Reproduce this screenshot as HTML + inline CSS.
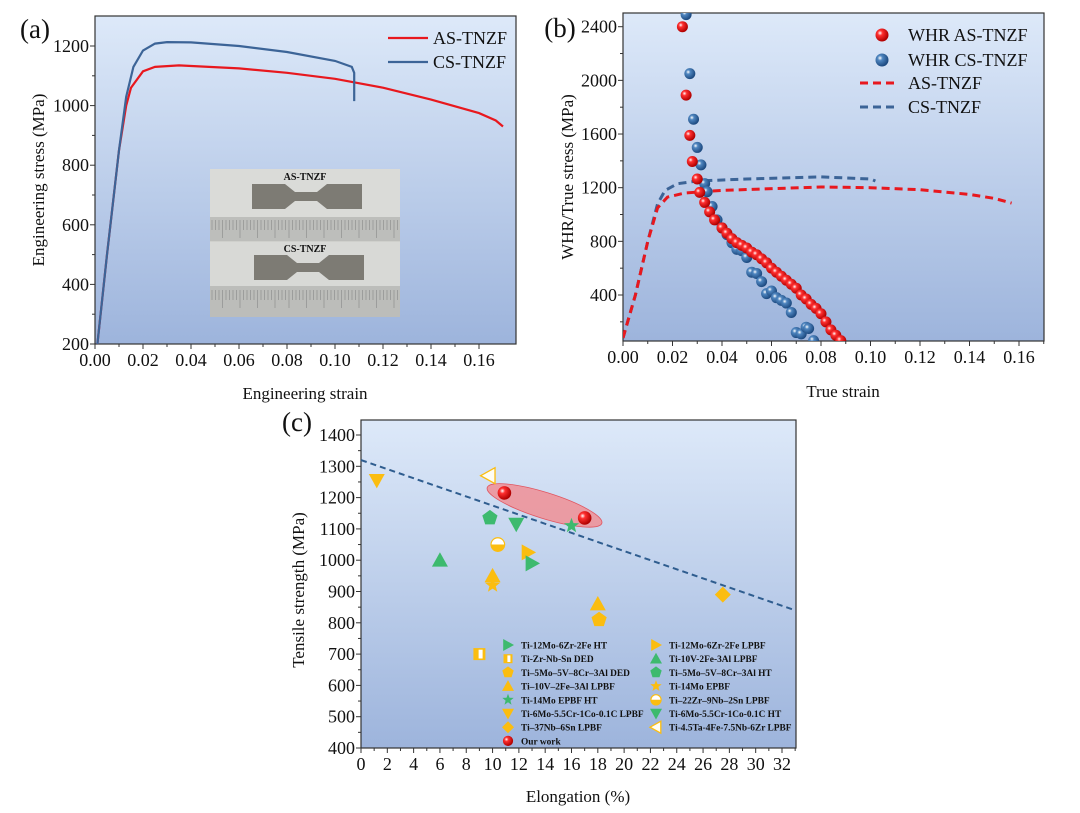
<!DOCTYPE html>
<html><head><meta charset="utf-8">
<style>
html,body{margin:0;padding:0;background:#fff;}
svg{display:block;font-family:"Liberation Serif",serif;}
.tk{font-size:18px;fill:#111;}
.tt{font-size:17px;fill:#111;}
.lg{font-size:18px;fill:#111;}
.cl{font-size:9.4px;font-weight:bold;fill:#111;}
</style></head>
<body>
<svg id="fig" width="1080" height="813" viewBox="0 0 1080 813">
<defs>
<linearGradient id="bg" x1="0" y1="0" x2="0" y2="1">
<stop offset="0" stop-color="#dde9f9"/><stop offset="1" stop-color="#9db4dc"/>
</linearGradient>
<radialGradient id="rb" cx="0.35" cy="0.35" r="0.65"><stop offset="0" stop-color="#fff"/><stop offset="0.3" stop-color="#ff3030"/><stop offset="1" stop-color="#b00000"/></radialGradient>
<radialGradient id="bb" cx="0.35" cy="0.35" r="0.65"><stop offset="0" stop-color="#fff"/><stop offset="0.3" stop-color="#4f86c0"/><stop offset="1" stop-color="#1d4a80"/></radialGradient>
</defs>
<g id="pa"></g>
<g id="pb"></g>
<g id="pc"></g>
</svg>
<script>
// ---- Panel (a) data ----
const aAsStrain=[0.001,0.005,0.01,0.013,0.015,0.02,0.025,0.035,0.06,0.08,0.1,0.12,0.14,0.16,0.167,0.17];
const aAsStress=[200,500,850,1000,1060,1115,1130,1135,1125,1110,1090,1060,1020,975,950,930];
const aCsStrain=[0.001,0.005,0.01,0.013,0.016,0.02,0.025,0.03,0.04,0.06,0.08,0.1,0.107,0.108,0.108];
const aCsStress=[200,500,850,1030,1130,1185,1208,1213,1212,1200,1180,1150,1130,1110,1015];
const aXTicks=[0,0.02,0.04,0.06,0.08,0.1,0.12,0.14,0.16];
const aYTicks=[200,400,600,800,1000,1200];
// ---- Panel (b) data ----
const bAsStrain=[0,0.005,0.01,0.014,0.018,0.025,0.04,0.08,0.1,0.12,0.14,0.15,0.157];
const bAsStress=[80,400,800,1050,1130,1160,1180,1205,1200,1185,1150,1120,1085];
const bCsStrain=[0,0.005,0.01,0.014,0.017,0.022,0.03,0.05,0.08,0.1,0.102];
const bCsStress=[80,400,800,1080,1180,1230,1250,1265,1280,1265,1250];
const whrAsX=[0.024,0.0255,0.027,0.028,0.03,0.031,0.033,0.035,0.037,0.04,0.042,0.044,0.046,0.048,0.05,0.052,0.054,0.056,0.058,0.06,0.062,0.064,0.066,0.068,0.07,0.072,0.074,0.076,0.078,0.08,0.082,0.084,0.086,0.088];
const whrAsY=[2400,1890,1590,1395,1265,1165,1090,1020,960,900,860,820,790,770,750,720,700,670,640,600,570,540,510,480,450,400,370,330,300,260,200,140,100,60];
const whrCsX=[0.0255,0.027,0.0285,0.03,0.0315,0.033,0.034,0.036,0.038,0.04,0.042,0.044,0.046,0.048,0.05,0.052,0.054,0.056,0.058,0.06,0.062,0.064,0.066,0.068,0.07,0.072,0.074,0.075,0.077];
const whrCsY=[2490,2050,1710,1500,1370,1230,1170,1060,960,900,850,790,740,730,680,570,560,500,410,430,380,360,340,270,120,110,160,150,60];
const bXTicks=[0,0.02,0.04,0.06,0.08,0.1,0.12,0.14,0.16];
const bYTicks=[400,800,1200,1600,2000,2400];
// ---- Panel (c) data ----
const cNames=["Ti-6Mo-5.5Cr-1Co-0.1C LPBF","Ti-4.5Ta-4Fe-7.5Nb-6Zr LPBF","Ti-5Mo-5V-8Cr-3Al HT","Ti-6Mo-5.5Cr-1Co-0.1C HT","Ti-14Mo EPBF HT","Ti-22Zr-9Nb-2Sn LPBF","Ti-10V-2Fe-3Al LPBF","Ti-12Mo-6Zr-2Fe LPBF","Ti-12Mo-6Zr-2Fe HT","Ti-10V-2Fe-3Al LPBF","Ti-10V-2Fe-3Al LPBF","Ti-14Mo EPBF","Ti-5Mo-5V-8Cr-3Al DED","Ti-37Nb-6Sn LPBF","Ti-Zr-Nb-Sn DED","Our work","Our work"];
const cElong=[1.2,9.7,9.8,11.8,16,10.4,6,12.7,13,10,18,10,18.1,27.5,9,10.9,17];
const cStrength=[1255,1270,1135,1115,1110,1050,1000,1025,990,950,860,920,810,890,700,1215,1135];
const cShapes=["ydown","yleft","gpent","gdown","gstar","yhalf","gup","yright","gright","yup","yup","ystar","ypent","ydiam","ysq","ball","ball"];
const cTrendX=[0,33];
const cTrendY=[1320,840];
const cXTicks=[0,2,4,6,8,10,12,14,16,18,20,22,24,26,28,30,32];
const cYTicks=[400,500,600,700,800,900,1000,1100,1200,1300,1400];
const cLegendLeft=[["gright","Ti-12Mo-6Zr-2Fe HT"],["ysq","Ti-Zr-Nb-Sn DED"],["ypent","Ti\u20135Mo\u20135V\u20138Cr\u20133Al DED"],["yup","Ti\u201310V\u20132Fe\u20133Al LPBF"],["gstar","Ti-14Mo EPBF HT"],["ydown","Ti-6Mo-5.5Cr-1Co-0.1C LPBF"],["ydiam","Ti\u201337Nb\u20136Sn LPBF"],["ball","Our work"]];
const cLegendRight=[["yright","Ti-12Mo-6Zr-2Fe LPBF"],["gup","Ti-10V-2Fe-3Al LPBF"],["gpent","Ti\u20135Mo\u20135V\u20138Cr\u20133Al  HT"],["ystar","Ti-14Mo EPBF"],["yhalf","Ti\u201322Zr\u20139Nb\u20132Sn LPBF"],["gdown","Ti-6Mo-5.5Cr-1Co-0.1C HT"],["yleft","Ti-4.5Ta-4Fe-7.5Nb-6Zr LPBF"]];

const NS="http://www.w3.org/2000/svg";
function mk(parent,tag,attrs){const e=document.createElementNS(NS,tag);for(const k in attrs)e.setAttribute(k,attrs[k]);parent.appendChild(e);return e;}
function lin(d0,d1,p0,p1){return v=>p0+(v-d0)*(p1-p0)/(d1-d0);}
function txt(p,x,y,s,cls,anchor,rot){const t=mk(p,'text',{x:x,y:y,class:cls,'text-anchor':anchor||'middle'});if(rot)t.setAttribute('transform','rotate(-90 '+x+' '+y+')');t.textContent=s;return t;}

function axes(g,L,R,T,B,xs,ys,xt,yt,fmtx,fmty,minorX,minorY){
  const bg=mk(g,'rect',{x:L,y:T,width:R-L,height:B-T,fill:'url(#bg)',stroke:'#333','stroke-width':1.2});
  
  
  xt.forEach(v=>{const x=xs(v);mk(g,'line',{x1:x,y1:B,x2:x,y2:B+5,stroke:'#333'});
    const t=txt(g,x,B+22,fmtx(v),'tk');
    
    });
  minorX.forEach(v=>{const x=xs(v);mk(g,'line',{x1:x,y1:B,x2:x,y2:B+3,stroke:'#333'});});
  yt.forEach(v=>{const y=ys(v);mk(g,'line',{x1:L-5,y1:y,x2:L,y2:y,stroke:'#333'});
    const t=txt(g,L-6,y+6,fmty(v),'tk','end');
    
    });
  minorY.forEach(v=>{const y=ys(v);mk(g,'line',{x1:L-3,y1:y,x2:L,y2:y,stroke:'#333'});});
}
function path(xs,ys,X,Y){return X.map((v,i)=>(i?'L':'M')+xs(v).toFixed(1)+','+ys(Y[i]).toFixed(1)).join('');}

// ---------- Panel A ----------
(function(){
  const g=document.getElementById('pa');
  const L=95,R=516,T=16,B=344;
  const xs=lin(0,0.16,95,479), ys=lin(200,1200,344,46);
  axes(g,L,R,T,B,xs,ys,aXTicks,aYTicks,v=>v.toFixed(2),v=>String(v),
    [0.01,0.03,0.05,0.07,0.09,0.11,0.13,0.15],[300,500,700,900,1100]);
  const ins=mk(g,'g',{});
  
  
  mk(ins,'rect',{x:210,y:169,width:190,height:148,fill:'#cfd0cc'});
  mk(ins,'rect',{x:210,y:169,width:190,height:48,fill:'#dadbd8'});
  mk(ins,'rect',{x:210,y:217,width:190,height:24,fill:'#bdbebb'});
  mk(ins,'rect',{x:210,y:242,width:190,height:44,fill:'#d8d9d6'});
  mk(ins,'rect',{x:210,y:286,width:190,height:31,fill:'#bcbdba'});
  [[252,184],[254,255]].forEach(p=>{mk(ins,'path',{d:`M${p[0]},${p[1]}h33l10,8h22l10,-8h35v25h-35l-10,-8h-22l-10,8h-33z`,fill:'#7d7b74'});});
  for(let x=212;x<398;x+=3.5){mk(ins,'line',{x1:x,y1:220,x2:x,y2:x%17<3.5?238:230,stroke:'#888','stroke-width':0.6});mk(ins,'line',{x1:x,y1:290,x2:x,y2:x%17<3.5?308:300,stroke:'#888','stroke-width':0.6});}
  txt(ins,305,180,'AS-TNZF','cl').setAttribute('style','font-size:10px');
  txt(ins,305,252,'CS-TNZF','cl').setAttribute('style','font-size:10px');
  const pr=mk(g,'path',{d:path(xs,ys,aAsStrain,aAsStress),fill:'none',stroke:'#e8181e','stroke-width':2.2});
  
  
  const pb=mk(g,'path',{d:path(xs,ys,aCsStrain,aCsStress),fill:'none',stroke:'#3c6497','stroke-width':2.2});
  
  
  mk(g,'line',{x1:388,y1:38,x2:428,y2:38,stroke:'#e8181e','stroke-width':2.2});
  const l1=txt(g,433,44,'AS-TNZF','lg','start');
  
  
  mk(g,'line',{x1:388,y1:62,x2:428,y2:62,stroke:'#3c6497','stroke-width':2.2});
  const l2=txt(g,433,68,'CS-TNZF','lg','start');
  
  
  const yt=txt(g,44,180,'Engineering stress (MPa)','tt','middle',true);
  
  
  const xt=txt(g,305,399,'Engineering strain','tt');
  
  
  const pl=txt(g,35,38,'(a)','tt');
  pl.setAttribute('style','font-size:27px');
  
  
})();

// ---------- Panel B ----------
(function(){
  const g=document.getElementById('pb');
  const L=623,R=1044,T=13,B=341;
  const xs=lin(0,0.16,623,1019), ys=lin(400,2400,295,26.7);
  axes(g,L,R,T,B,xs,ys,bXTicks,bYTicks,v=>v.toFixed(2),v=>String(v),
    [0.01,0.03,0.05,0.07,0.09,0.11,0.13,0.15,0.17],[200,600,1000,1400,1800,2200]);
  const cp=document.createElementNS(NS,'clipPath');cp.id='cb';g.appendChild(cp);
  mk(cp,'rect',{x:L,y:T,width:R-L,height:B-T});
  const inner=mk(g,'g',{'clip-path':'url(#cb)'});
  const d1=mk(inner,'path',{d:path(xs,ys,bCsStrain,bCsStress),fill:'none',stroke:'#3c6497','stroke-width':3,'stroke-dasharray':'8,5'});
  
  
  const d2=mk(inner,'path',{d:path(xs,ys,bAsStrain,bAsStress),fill:'none',stroke:'#e8181e','stroke-width':3,'stroke-dasharray':'8,5'});
  
  
  whrCsX.forEach((v,i)=>{const c=mk(inner,'circle',{cx:xs(v),cy:ys(whrCsY[i]),r:5.5,fill:'url(#bb)'});
    
    });
  whrAsX.forEach((v,i)=>{const c=mk(inner,'circle',{cx:xs(v),cy:ys(whrAsY[i]),r:5.5,fill:'url(#rb)'});
    
    });
  mk(g,'circle',{cx:882,cy:35,r:6.5,fill:'url(#rb)'});
  mk(g,'circle',{cx:882,cy:60,r:6.5,fill:'url(#bb)'});
  mk(g,'line',{x1:860,y1:83,x2:898,y2:83,stroke:'#e8181e','stroke-width':3,'stroke-dasharray':'8,5'});
  mk(g,'line',{x1:860,y1:107,x2:898,y2:107,stroke:'#3c6497','stroke-width':3,'stroke-dasharray':'8,5'});
  [['WHR AS-TNZF',41],['WHR CS-TNZF',66],['AS-TNZF',89],['CS-TNZF',113]].forEach(e=>{
    const t=txt(g,908,e[1],e[0],'lg','start');
    
    });
  const yt=txt(g,573,177,'WHR/True stress (MPa)','tt','middle',true);
  
  
  const xt=txt(g,843,397,'True strain','tt');
  
  
  const pl=txt(g,560,37,'(b)','tt');
  pl.setAttribute('style','font-size:27px');
  
  
})();

// ---------- Panel C ----------
const Y='#fbbd10', G='#3dba6e';
function marker(p,shape,x,y,s){
  const col=shape[0]==='y'?Y:G, k=shape.slice(1);
  if(shape==='ball') return mk(p,'circle',{cx:x,cy:y,r:s*0.85,fill:'url(#rb)'});
  if(k==='up') return mk(p,'polygon',{points:`${x},${y-s} ${x-s},${y+s*0.8} ${x+s},${y+s*0.8}`,fill:col});
  if(k==='down') return mk(p,'polygon',{points:`${x},${y+s} ${x-s},${y-s*0.8} ${x+s},${y-s*0.8}`,fill:col});
  if(k==='right') return mk(p,'polygon',{points:`${x+s},${y} ${x-s*0.8},${y-s} ${x-s*0.8},${y+s}`,fill:col});
  if(k==='left') return mk(p,'polygon',{points:`${x-s},${y} ${x+s*0.8},${y-s} ${x+s*0.8},${y+s}`,fill:'#fffdf2',stroke:Y,'stroke-width':1.3});
  if(k==='diam') return mk(p,'polygon',{points:`${x},${y-s} ${x+s},${y} ${x},${y+s} ${x-s},${y}`,fill:col});
  if(k==='sq'){const gg=mk(p,'g',{});mk(gg,'rect',{x:x-s*0.75,y:y-s*0.75,width:s*1.5,height:s*1.5,fill:col});mk(gg,'rect',{x:x-s*0.1,y:y-s*0.55,width:s*0.5,height:s*1.1,fill:'#fff'});return gg;}
  if(k==='half'){const gg=mk(p,'g',{});mk(gg,'circle',{cx:x,cy:y,r:s*0.85,fill:col});mk(gg,'path',{d:`M${x-s*0.85},${y}A${s*0.85},${s*0.85} 0 0 1 ${x+s*0.85},${y}Z`,fill:'#fff'});mk(gg,'circle',{cx:x,cy:y,r:s*0.85,fill:'none',stroke:col,'stroke-width':1.2});return gg;}
  if(k==='pent'||k==='star'){const n=k==='pent'?5:10;let pts=[];for(let i=0;i<n;i++){const a=-Math.PI/2+i*2*Math.PI/n;const r=(k==='star'&&i%2)?s*0.42:s;pts.push((x+r*Math.cos(a)).toFixed(1)+','+(y+r*Math.sin(a)).toFixed(1));}return mk(p,'polygon',{points:pts.join(' '),fill:col});}
}
(function(){
  const g=document.getElementById('pc');
  const L=361,R=796,T=420,B=748;
  const xs=lin(0,32,361,782), ys=lin(400,1400,748,435);
  axes(g,L,R,T,B,xs,ys,cXTicks,cYTicks,v=>String(v),v=>String(v),
    [1,3,5,7,9,11,13,15,17,19,21,23,25,27,29,31,33],[450,550,650,750,850,950,1050,1150,1250,1350]);
  const tl=mk(g,'line',{x1:xs(cTrendX[0]),y1:ys(cTrendY[0]),x2:xs(cTrendX[1]),y2:ys(cTrendY[1]),stroke:'#2f5d8f','stroke-width':2,'stroke-dasharray':'6,4'});
  
  
  const ow=cShapes.map((s,i)=>s==='ball'?i:-1).filter(i=>i>=0);
  const ax=xs(cElong[ow[0]]),ay=ys(cStrength[ow[0]]),bx=xs(cElong[ow[1]]),by=ys(cStrength[ow[1]]);
  const ang=Math.atan2(by-ay,bx-ax)*180/Math.PI, len=Math.hypot(bx-ax,by-ay);
  const el=mk(g,'ellipse',{cx:(ax+bx)/2,cy:(ay+by)/2,rx:len/2+18,ry:13,fill:'#f08f95','fill-opacity':0.85,stroke:'#e05560','stroke-width':0.8,transform:`rotate(${ang} ${(ax+bx)/2} ${(ay+by)/2})`});
  
  
  cElong.forEach((v,i)=>{const m=marker(g,cShapes[i],xs(v),ys(cStrength[i]),8);
    
    });
  cLegendLeft.forEach((e,i)=>{const y=645+i*13.7;marker(g,e[0],508,y,6);
    const t=txt(g,521,y+3.5,e[1],'cl','start');
    
    });
  cLegendRight.forEach((e,i)=>{const y=645+i*13.7;marker(g,e[0],656,y,6);
    const t=txt(g,669,y+3.5,e[1],'cl','start');
    
    });
  const yt=txt(g,304,590,'Tensile strength (MPa)','tt','middle',true);
  
  
  const xt=txt(g,578,802,'Elongation (%)','tt');
  
  
  const pl=txt(g,297,431,'(c)','tt');
  pl.setAttribute('style','font-size:27px');
  
  
})();
</script>
</body></html>
